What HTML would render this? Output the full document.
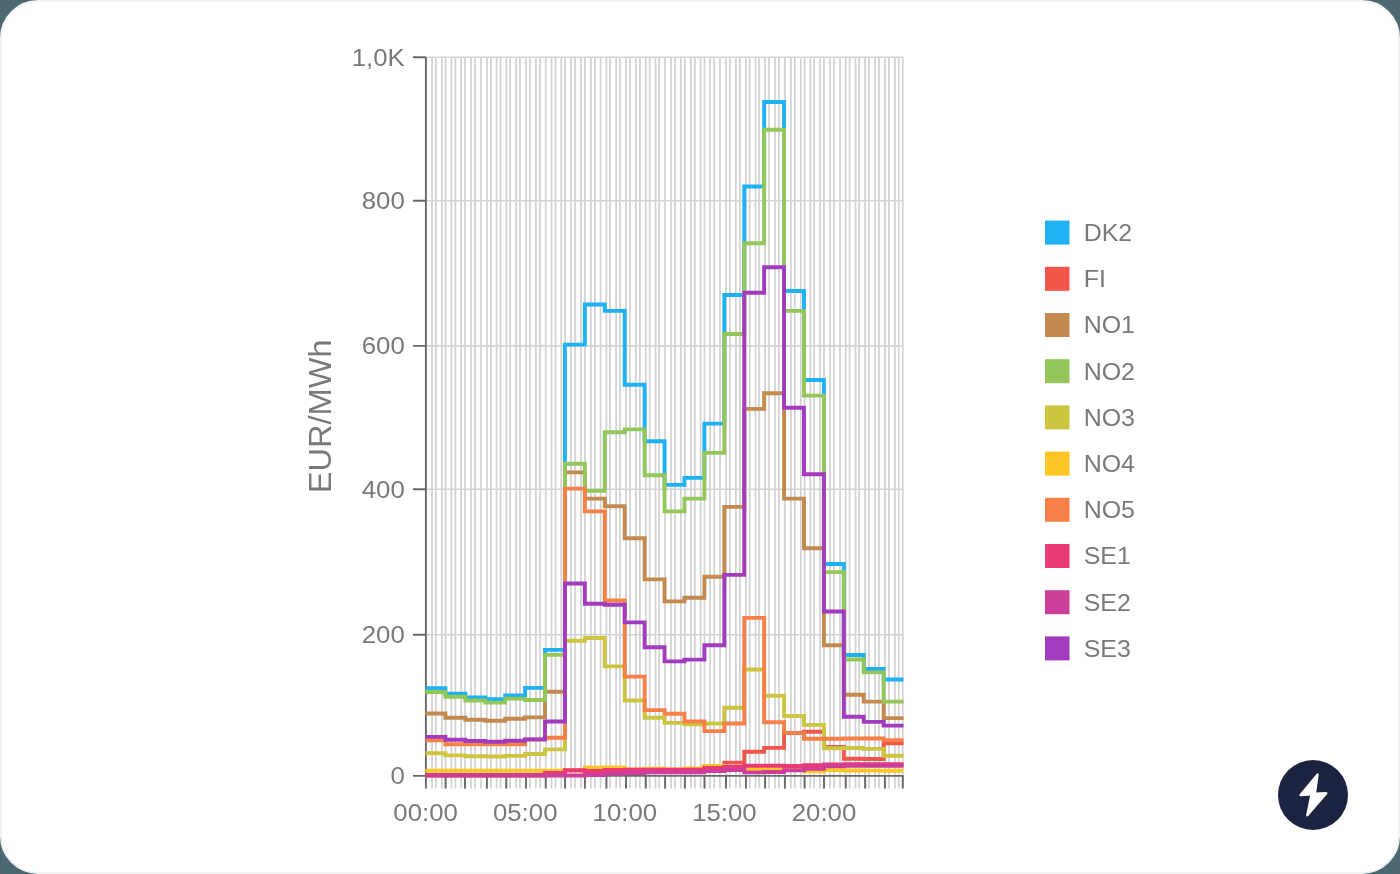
<!DOCTYPE html>
<html><head><meta charset="utf-8"><style>
html,body{margin:0;padding:0;width:1400px;height:874px;overflow:hidden;background:#4c6870;}
.card{position:absolute;left:0;top:0;width:1396px;height:870px;border:2px solid #f2f2f2;border-radius:38px;background:#fff;overflow:hidden;}
svg{position:absolute;left:0;top:0;will-change:transform;}
.t{font-family:"Liberation Sans",sans-serif;font-size:24px;fill:#797979;}
.ty{font-family:"Liberation Sans",sans-serif;font-size:32px;fill:#797979;}
</style></head><body>
<div class="card"></div>
<svg width="1400" height="874" viewBox="0 0 1400 874">
<path d="M432.00,57V788.5 M435.90,57V788.5 M441.90,57V788.5 M445.60,57V788.5 M451.40,57V788.5 M455.40,57V788.5 M461.20,57V788.5 M465.00,57V788.5 M471.00,57V788.5 M475.10,57V788.5 M481.00,57V788.5 M486.90,57V788.5 M490.90,57V788.5 M496.60,57V788.5 M500.50,57V788.5 M506.25,57V788.5 M510.10,57V788.5 M516.10,57V788.5 M520.00,57V788.5 M526.00,57V788.5 M530.00,57V788.5 M535.90,57V788.5 M540.00,57V788.5 M545.75,57V788.5 M551.50,57V788.5 M555.50,57V788.5 M561.25,57V788.5 M565.10,57V788.5 M571.00,57V788.5 M575.00,57V788.5 M581.00,57V788.5 M584.90,57V788.5 M590.90,57V788.5 M594.90,57V788.5 M600.60,57V788.5 M606.40,57V788.5 M610.00,57V788.5 M616.10,57V788.5 M620.00,57V788.5 M626.00,57V788.5 M630.00,57V788.5 M635.90,57V788.5 M639.90,57V788.5 M645.75,57V788.5 M649.65,57V788.5 M655.50,57V788.5 M659.10,57V788.5 M665.10,57V788.5 M671.00,57V788.5 M675.00,57V788.5 M680.90,57V788.5 M684.90,57V788.5 M690.90,57V788.5 M694.90,57V788.5 M700.60,57V788.5 M704.50,57V788.5 M710.00,57V788.5 M714.15,57V788.5 M720.00,57V788.5 M726.00,57V788.5 M729.90,57V788.5 M735.90,57V788.5 M739.90,57V788.5 M745.90,57V788.5 M749.75,57V788.5 M755.50,57V788.5 M759.00,57V788.5 M765.10,57V788.5 M769.10,57V788.5 M775.00,57V788.5 M778.90,57V788.5 M784.90,57V788.5 M790.90,57V788.5 M794.75,57V788.5 M800.75,57V788.5 M804.60,57V788.5 M810.25,57V788.5 M814.10,57V788.5 M820.00,57V788.5 M824.00,57V788.5 M830.00,57V788.5 M834.00,57V788.5 M840.00,57V788.5 M845.75,57V788.5 M849.60,57V788.5 M855.50,57V788.5 M859.10,57V788.5 M865.15,57V788.5 M869.00,57V788.5 M875.00,57V788.5 M878.90,57V788.5 M884.90,57V788.5 M888.90,57V788.5 M894.90,57V788.5 M898.75,57V788.5 M902.75,57V788.5" stroke="#d2d2d2" stroke-width="1.7" fill="none"/><path d="M425.9,634.80H903.2 M425.9,489.20H903.2 M425.9,345.90H903.2 M425.9,200.70H903.2 M425.9,57.20H903.2" stroke="#d4d4d4" stroke-width="1.6" fill="none"/><path d="M445.60,776V788.5 M465.00,776V788.5 M486.90,776V788.5 M506.25,776V788.5 M526.00,776V788.5 M545.75,776V788.5 M565.10,776V788.5 M584.90,776V788.5 M606.40,776V788.5 M626.00,776V788.5 M645.75,776V788.5 M665.10,776V788.5 M684.90,776V788.5 M704.50,776V788.5 M726.00,776V788.5 M745.90,776V788.5 M765.10,776V788.5 M784.90,776V788.5 M804.60,776V788.5 M824.00,776V788.5 M845.75,776V788.5 M865.15,776V788.5 M884.90,776V788.5 M902.75,776V788.5" stroke="#686868" stroke-width="1.9" fill="none"/><path d="M425.9,775.9H903.6" stroke="#686868" stroke-width="1.9" fill="none"/><path d="M425.9,57V788.5" stroke="#686868" stroke-width="1.9" fill="none"/><path d="M413,775.90H425.9 M413,634.80H425.9 M413,489.20H425.9 M413,345.90H425.9 M413,200.70H425.9 M413,57.20H425.9" stroke="#686868" stroke-width="1.9" fill="none"/><path d="M425.50,688.30H445.42V693.60H465.34V697.50H485.26V699.30H505.18V695.40H525.10V687.90H545.02V649.90H564.94V344.60H584.86V304.50H604.78V310.90H624.70V384.80H644.62V441.30H664.54V484.90H684.46V477.90H704.38V423.60H724.30V295.00H744.22V186.50H764.14V102.00H784.06V291.00H803.98V380.00H823.90V564.00H843.82V655.00H863.74V669.00H883.66V679.50H903.58" stroke="#1eb1f3" stroke-width="3.9" fill="none" stroke-linejoin="miter" stroke-linecap="butt"/><path d="M425.50,775.50H445.42V775.50H465.34V775.50H485.26V775.50H505.18V775.50H525.10V775.50H545.02V775.00H564.94V770.50H584.86V770.50H604.78V770.50H624.70V770.50H644.62V770.50H664.54V770.50H684.46V770.50H704.38V766.00H724.30V762.60H744.22V751.70H764.14V747.90H784.06V733.00H803.98V731.80H823.90V746.90H843.82V758.70H863.74V759.00H883.66V743.40H903.58" stroke="#f2564b" stroke-width="3.9" fill="none" stroke-linejoin="miter" stroke-linecap="butt"/><path d="M425.50,713.50H445.42V717.70H465.34V719.70H485.26V720.80H505.18V718.80H525.10V717.40H545.02V691.70H564.94V472.40H584.86V498.60H604.78V506.30H624.70V538.30H644.62V579.40H664.54V601.40H684.46V597.70H704.38V576.70H724.30V506.90H744.22V408.90H764.14V393.20H784.06V498.60H803.98V548.30H823.90V645.20H843.82V694.70H863.74V701.60H883.66V718.10H903.58" stroke="#c28a4e" stroke-width="3.9" fill="none" stroke-linejoin="miter" stroke-linecap="butt"/><path d="M425.50,692.00H445.42V696.80H465.34V700.50H485.26V702.60H505.18V698.60H525.10V700.00H545.02V654.90H564.94V463.80H584.86V490.80H604.78V432.20H624.70V429.40H644.62V475.20H664.54V511.40H684.46V498.60H704.38V452.90H724.30V334.00H744.22V243.20H764.14V129.80H784.06V310.90H803.98V395.60H823.90V572.10H843.82V659.50H863.74V672.40H883.66V701.60H903.58" stroke="#93c75a" stroke-width="3.9" fill="none" stroke-linejoin="miter" stroke-linecap="butt"/><path d="M425.50,753.20H445.42V755.40H465.34V756.30H485.26V756.50H505.18V755.90H525.10V754.00H545.02V749.40H564.94V640.80H584.86V638.00H604.78V666.40H624.70V700.50H644.62V717.80H664.54V722.90H684.46V724.20H704.38V723.50H724.30V707.80H744.22V669.50H764.14V695.80H784.06V716.00H803.98V724.90H823.90V748.20H843.82V748.00H863.74V748.90H883.66V755.70H903.58" stroke="#cdc540" stroke-width="3.9" fill="none" stroke-linejoin="miter" stroke-linecap="butt"/><path d="M425.50,770.70H445.42V770.70H465.34V770.70H485.26V770.70H505.18V770.70H525.10V770.70H545.02V770.70H564.94V770.00H584.86V767.60H604.78V767.40H624.70V769.50H644.62V768.60H664.54V769.50H684.46V768.40H704.38V766.00H724.30V767.00H744.22V769.50H764.14V769.50H784.06V770.00H803.98V771.20H823.90V770.10H843.82V770.50H863.74V770.60H883.66V770.70H903.58" stroke="#fdc622" stroke-width="3.9" fill="none" stroke-linejoin="miter" stroke-linecap="butt"/><path d="M425.50,740.30H445.42V744.20H465.34V744.20H485.26V744.20H505.18V744.20H525.10V739.50H545.02V737.70H564.94V488.60H584.86V511.40H604.78V600.50H624.70V676.60H644.62V710.10H664.54V713.70H684.46V721.50H704.38V731.10H724.30V723.50H744.22V617.90H764.14V722.20H784.06V732.90H803.98V738.80H823.90V738.80H843.82V738.50H863.74V738.50H883.66V740.10H903.58" stroke="#f68048" stroke-width="3.9" fill="none" stroke-linejoin="miter" stroke-linecap="butt"/><path d="M425.50,775.00H445.42V775.00H465.34V775.00H485.26V775.00H505.18V775.00H525.10V775.00H545.02V773.00H564.94V770.10H584.86V771.00H604.78V770.00H624.70V769.60H644.62V769.70H664.54V769.70H684.46V769.70H704.38V768.00H724.30V767.00H744.22V765.70H764.14V765.70H784.06V766.00H803.98V765.30H823.90V764.50H843.82V764.30H863.74V764.30H883.66V764.30H903.58" stroke="#ea3975" stroke-width="3.9" fill="none" stroke-linejoin="miter" stroke-linecap="butt"/><path d="M425.50,775.50H445.42V775.50H465.34V775.50H485.26V775.50H505.18V775.50H525.10V775.50H545.02V775.50H564.94V775.50H584.86V775.00H604.78V773.60H624.70V773.00H644.62V772.20H664.54V772.20H684.46V772.20H704.38V771.00H724.30V770.00H744.22V772.40H764.14V772.00H784.06V770.20H803.98V768.80H823.90V766.20H843.82V765.80H863.74V765.80H883.66V765.80H903.58" stroke="#cd3d9a" stroke-width="3.9" fill="none" stroke-linejoin="miter" stroke-linecap="butt"/><path d="M425.50,736.90H445.42V739.80H465.34V741.00H485.26V741.70H505.18V740.70H525.10V739.40H545.02V721.50H564.94V583.50H584.86V603.80H604.78V604.70H624.70V622.40H644.62V647.20H664.54V661.40H684.46V659.60H704.38V645.30H724.30V574.90H744.22V292.80H764.14V267.20H784.06V407.80H803.98V474.30H823.90V611.50H843.82V716.70H863.74V721.90H883.66V725.60H903.58" stroke="#a33bbf" stroke-width="3.9" fill="none" stroke-linejoin="miter" stroke-linecap="butt"/>
<text transform="translate(404.8,784.20) scale(1.075,1)" text-anchor="end" class="t">0</text><text transform="translate(404.8,643.10) scale(1.075,1)" text-anchor="end" class="t">200</text><text transform="translate(404.8,497.50) scale(1.075,1)" text-anchor="end" class="t">400</text><text transform="translate(404.8,354.20) scale(1.075,1)" text-anchor="end" class="t">600</text><text transform="translate(404.8,209.00) scale(1.075,1)" text-anchor="end" class="t">800</text><text transform="translate(404.8,65.50) scale(1.075,1)" text-anchor="end" class="t">1,0K</text><text transform="translate(425.60,820.6) scale(1.075,1)" text-anchor="middle" class="t">00:00</text><text transform="translate(525.20,820.6) scale(1.075,1)" text-anchor="middle" class="t">05:00</text><text transform="translate(624.80,820.6) scale(1.075,1)" text-anchor="middle" class="t">10:00</text><text transform="translate(724.40,820.6) scale(1.075,1)" text-anchor="middle" class="t">15:00</text><text transform="translate(824.00,820.6) scale(1.075,1)" text-anchor="middle" class="t">20:00</text><text transform="translate(330.7,416.3) rotate(-90) scale(1.018,1)" text-anchor="middle" class="ty">EUR/MWh</text>
<rect x="1045" y="220.60" width="24.5" height="24" fill="#1eb1f3"/><text transform="translate(1083.7,240.90) scale(1.04,1)" class="t">DK2</text><rect x="1045" y="266.80" width="24.5" height="24" fill="#f2564b"/><text transform="translate(1083.7,287.10) scale(1.04,1)" class="t">FI</text><rect x="1045" y="313.00" width="24.5" height="24" fill="#c28a4e"/><text transform="translate(1083.7,333.30) scale(1.04,1)" class="t">NO1</text><rect x="1045" y="359.20" width="24.5" height="24" fill="#93c75a"/><text transform="translate(1083.7,379.50) scale(1.04,1)" class="t">NO2</text><rect x="1045" y="405.40" width="24.5" height="24" fill="#cdc540"/><text transform="translate(1083.7,425.70) scale(1.04,1)" class="t">NO3</text><rect x="1045" y="451.60" width="24.5" height="24" fill="#fdc622"/><text transform="translate(1083.7,471.90) scale(1.04,1)" class="t">NO4</text><rect x="1045" y="497.80" width="24.5" height="24" fill="#f68048"/><text transform="translate(1083.7,518.10) scale(1.04,1)" class="t">NO5</text><rect x="1045" y="544.00" width="24.5" height="24" fill="#ea3975"/><text transform="translate(1083.7,564.30) scale(1.04,1)" class="t">SE1</text><rect x="1045" y="590.20" width="24.5" height="24" fill="#cd3d9a"/><text transform="translate(1083.7,610.50) scale(1.04,1)" class="t">SE2</text><rect x="1045" y="636.40" width="24.5" height="24" fill="#a33bbf"/><text transform="translate(1083.7,656.70) scale(1.04,1)" class="t">SE3</text>
<circle cx="1313" cy="795" r="35" fill="#1b2340"/>
<path d="M1317.6,774.4 L1300.6,795 L1311.6,794.2 L1307.3,815.3 L1326.3,793.3 L1314.8,793.8 Z" fill="#fff" stroke="#fff" stroke-width="2.4" stroke-linejoin="round"/>
</svg>
</body></html>
